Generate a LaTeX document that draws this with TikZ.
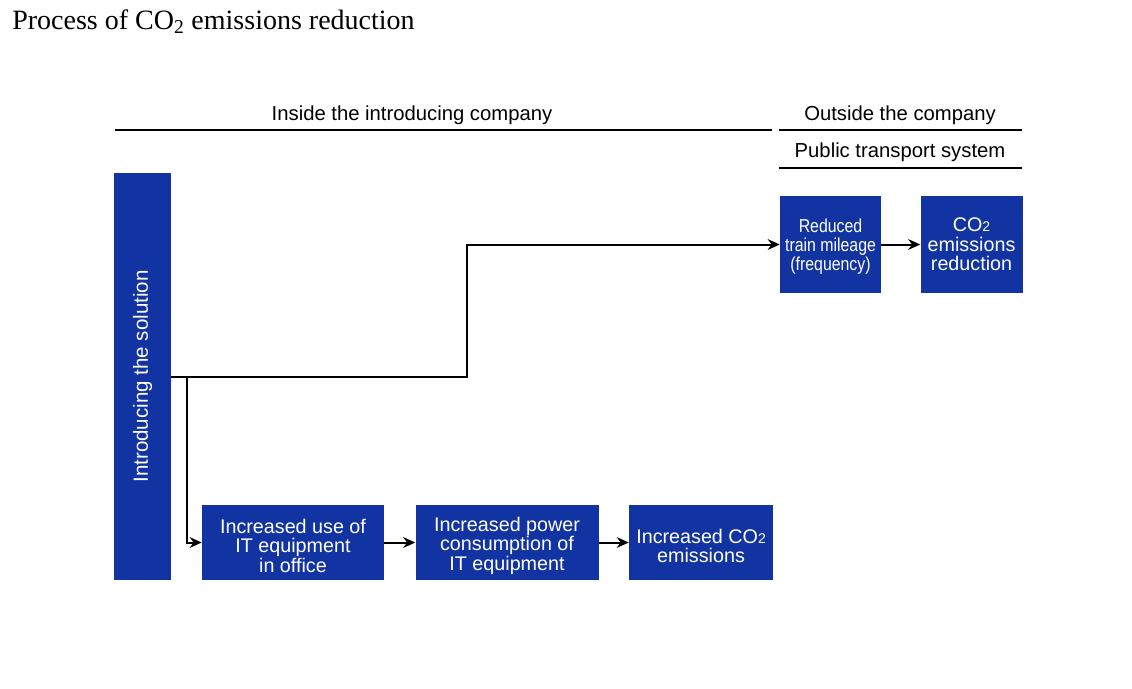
\documentclass[tikz,border=0pt]{standalone}
\usepackage{fontspec}
\setmainfont{Liberation Serif}
\setsansfont{Liberation Sans}
\newfontfamily\narrowsans[FakeStretch=0.85]{Liberation Sans}
\usetikzlibrary{arrows.meta,positioning}
\definecolor{boxblue}{RGB}{18,52,162}
\newcommand{\cotwo}{CO{\fontsize{10.5}{10.5}\selectfont 2}}
\newcommand{\lowstrut}{\rule{0pt}{15.5pt}}

\begin{document}
\begin{tikzpicture}[
        x=0.75pt, y=-0.75pt,
        step box/.style={
            rectangle,
            fill=boxblue,
            text=white,
            inner sep=0pt,
            minimum height=56.25pt,
            font=\sffamily\fontsize{14.8}{14.5}\selectfont,
            align=center
        },
        header/.style={
            font=\sffamily\fontsize{15.2}{16}\selectfont,
            anchor=center
        },
        rule/.style={
            line width=1.5pt
        },
        arrow/.style={
            -{Stealth[length=9pt, width=8pt]},
            line width=1.5pt
        }
    ]
    \useasboundingbox (0,0) rectangle (1132,689);

    % Title
    \node[anchor=base west, inner sep=0pt, font=\fontsize{21}{23}\selectfont] (title) at (12,29) {Process of CO\textsubscript{2} emissions reduction};

    % Column headers with rules
    \node[header] (inside) at (412,115) {Inside the introducing company};
    \node[header] (outside) at (900,115) {Outside the company};
    \node[header] (public) at (900,152) {Public transport system};
    \draw[rule] (115,130) -- (772,130);
    \draw[rule] (779,130) -- (1022,130);
    \draw[rule] (779,168) -- (1022,168);

    % Vertical bar on the left
    \node[step box, minimum width=42.75pt, minimum height=305.25pt] (solution) at (142.5,376.5) {};
    \node[rotate=90, text=white, font=\sffamily\fontsize{15.4}{16}\selectfont] (solutiontext) at (solution.center) {Introducing the solution};

    % Chain inside the company
    \node[step box, minimum width=136.5pt] (useit) at (293,542.5) {\lowstrut Increased use of\\IT equipment\\in office};
    \node[step box, minimum width=137.25pt, right=23.25pt of useit] (power) {\lowstrut Increased power\\consumption of\\IT equipment};
    \node[step box, minimum width=108pt, right=22.5pt of power] (increase) {\lowstrut Increased \cotwo\\emissions};

    % Chain outside the company
    \node[step box, minimum width=75.75pt, minimum height=72.75pt, font=\narrowsans\fontsize{14}{14.25}\selectfont] (mileage) at (830.5,244.5) {\rule{0pt}{13.5pt}Reduced\\train mileage\\(frequency)};
    \node[step box, minimum width=76.5pt, minimum height=72.75pt, right=29.25pt of mileage] (reduction) {\cotwo\\emissions\\reduction};

    % Connectors
    \draw[arrow] (solution.east) -- ++(296,0) |- (mileage.west);
    \draw[arrow] ([xshift=12pt]solution.east) |- (useit.west);
    \draw[arrow] (useit) -- (power);
    \draw[arrow] (power) -- (increase);
    \draw[arrow] (mileage) -- (reduction);

\end{tikzpicture}
\end{document}
